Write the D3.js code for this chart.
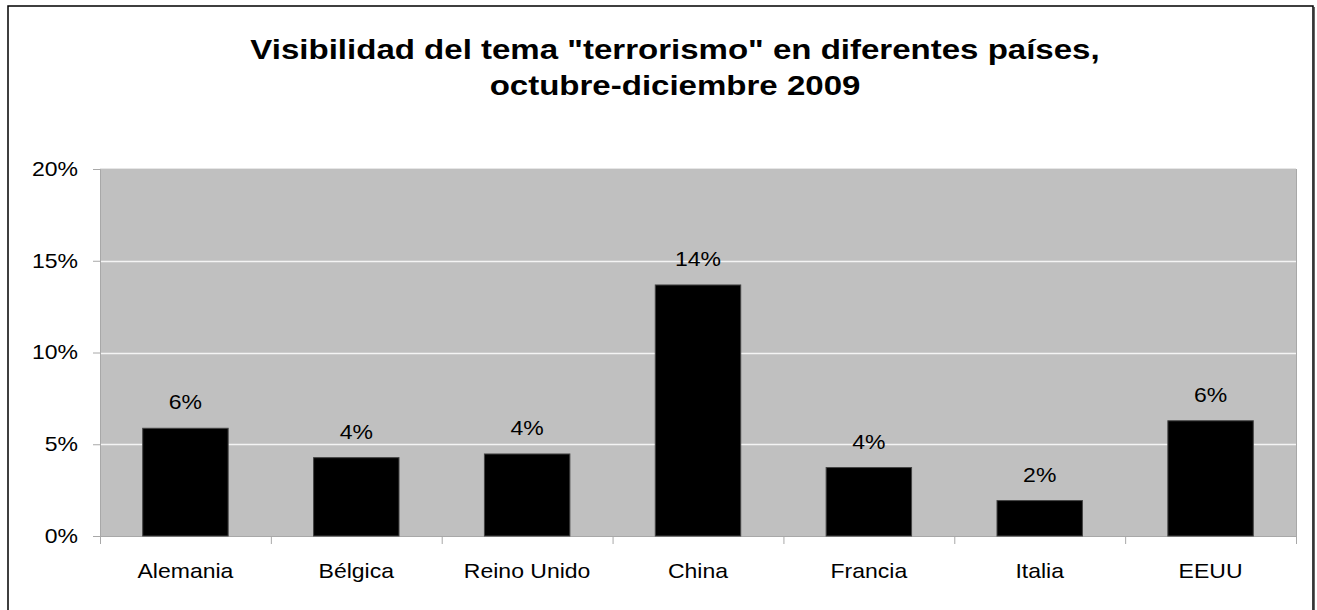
<!DOCTYPE html>
<html><head><meta charset="utf-8">
<script src="https://cdn.jsdelivr.net/npm/d3@7"></script>
<style>body{margin:0;background:#fff}svg{display:block;font-family:"Liberation Sans",Arial,sans-serif}</style>
</head><body>
<script>
const categories = ["Alemania","Bélgica","Reino Unido","China","Francia","Italia","EEUU"];
const values = [0.0587,0.0427,0.0447,0.1368,0.0373,0.0193,0.0628];
const yTicks = [0,0.05,0.10,0.15,0.20];
const titleLines = ['Visibilidad del tema "terrorismo" en diferentes países,','octubre-diciembre 2009'];

const W=1317,H=610, SX=1.15;
const svg=d3.select("body").append("svg").attr("width",W).attr("height",H);
svg.append("rect").attr("x",8).attr("y",6).attr("width",1305).attr("height",620)
  .attr("fill","#fff").attr("stroke","#000").attr("stroke-width",1.5);
svg.append("line").attr("x1",1314).attr("x2",1314).attr("y1",7).attr("y2",H).attr("stroke","#333").attr("stroke-width",1.5);

const m={l:100,r:1296,t:169,b:536};
const x=d3.scaleBand().domain(categories).range([m.l,m.r]).paddingInner(0.5).paddingOuter(0.25);
const xb=d3.scaleBand().domain(categories).range([m.l,m.r]);
const y=d3.scaleLinear().domain([0,0.2]).range([m.b,m.t]);

svg.append("rect").attr("x",m.l).attr("y",m.t).attr("width",m.r-m.l).attr("height",m.b-m.t)
  .attr("fill","#c0c0c0");
svg.append("line").attr("x1",m.l).attr("x2",m.r).attr("y1",m.t-0.5).attr("y2",m.t-0.5).attr("stroke","#e6e6e6");
svg.append("line").attr("x1",m.r+0.5).attr("x2",m.r+0.5).attr("y1",m.t).attr("y2",m.b).attr("stroke","#a8a8a8");

svg.selectAll(".grid").data(yTicks.filter(d=>d>0&&d<0.2)).enter().append("line")
  .attr("x1",m.l).attr("x2",m.r).attr("y1",d=>Math.round(y(d))+0.5).attr("y2",d=>Math.round(y(d))+0.5)
  .attr("stroke","#f4f4f4").attr("stroke-width",1.5);

// y axis
const ya=svg.append("g").attr("transform",`translate(${m.l},0)`)
  .call(d3.axisLeft(y).tickValues(yTicks).tickFormat(d3.format(".0%")).tickSize(7));
ya.select(".domain").attr("stroke","#a8a8a8");
ya.selectAll(".tick line").attr("stroke","#a8a8a8");
ya.selectAll("text").attr("font-size",20).attr("fill","#000").attr("font-family","Liberation Sans, Arial, sans-serif")
  .attr("x",-22/SX).attr("transform",`scale(${SX},1)`);

// x axis
const xa=svg.append("g").attr("transform",`translate(0,${m.b})`)
  .call(d3.axisBottom(xb).tickSize(0));
xa.select(".domain").attr("stroke","#a8a8a8");
xa.selectAll("text").attr("font-size",20).attr("fill","#000").attr("font-family","Liberation Sans, Arial, sans-serif")
  .attr("y",42).attr("dy",0).attr("transform",`scale(${SX},1)`);
const bounds=categories.map(c=>xb(c)).concat([m.r]);
svg.selectAll(".xt").data(bounds).enter().append("line")
  .attr("x1",d=>d+0.5).attr("x2",d=>d+0.5).attr("y1",m.b).attr("y2",m.b+8).attr("stroke","#a8a8a8");

svg.selectAll(".bar").data(values).enter().append("rect")
  .attr("x",(d,i)=>x(categories[i])).attr("width",x.bandwidth())
  .attr("y",d=>y(d)).attr("height",d=>m.b-y(d))
  .attr("fill","#000").attr("stroke","#444").attr("stroke-width",1);

svg.selectAll(".lbl").data(values).enter().append("text")
  .attr("transform",(d,i)=>`translate(${x(categories[i])+x.bandwidth()/2},${y(d)-19}) scale(${SX},1)`)
  .attr("text-anchor","middle").attr("font-size",20).attr("fill","#000")
  .text(d=>d3.format(".0%")(d));

svg.selectAll(".title").data(titleLines).enter().append("text")
  .attr("transform",(d,i)=>`translate(675,${59+i*36}) scale(1.18,1)`).attr("text-anchor","middle")
  .attr("font-size",28).attr("font-weight","bold").attr("fill","#000").text(d=>d);
</script>
</body></html>
